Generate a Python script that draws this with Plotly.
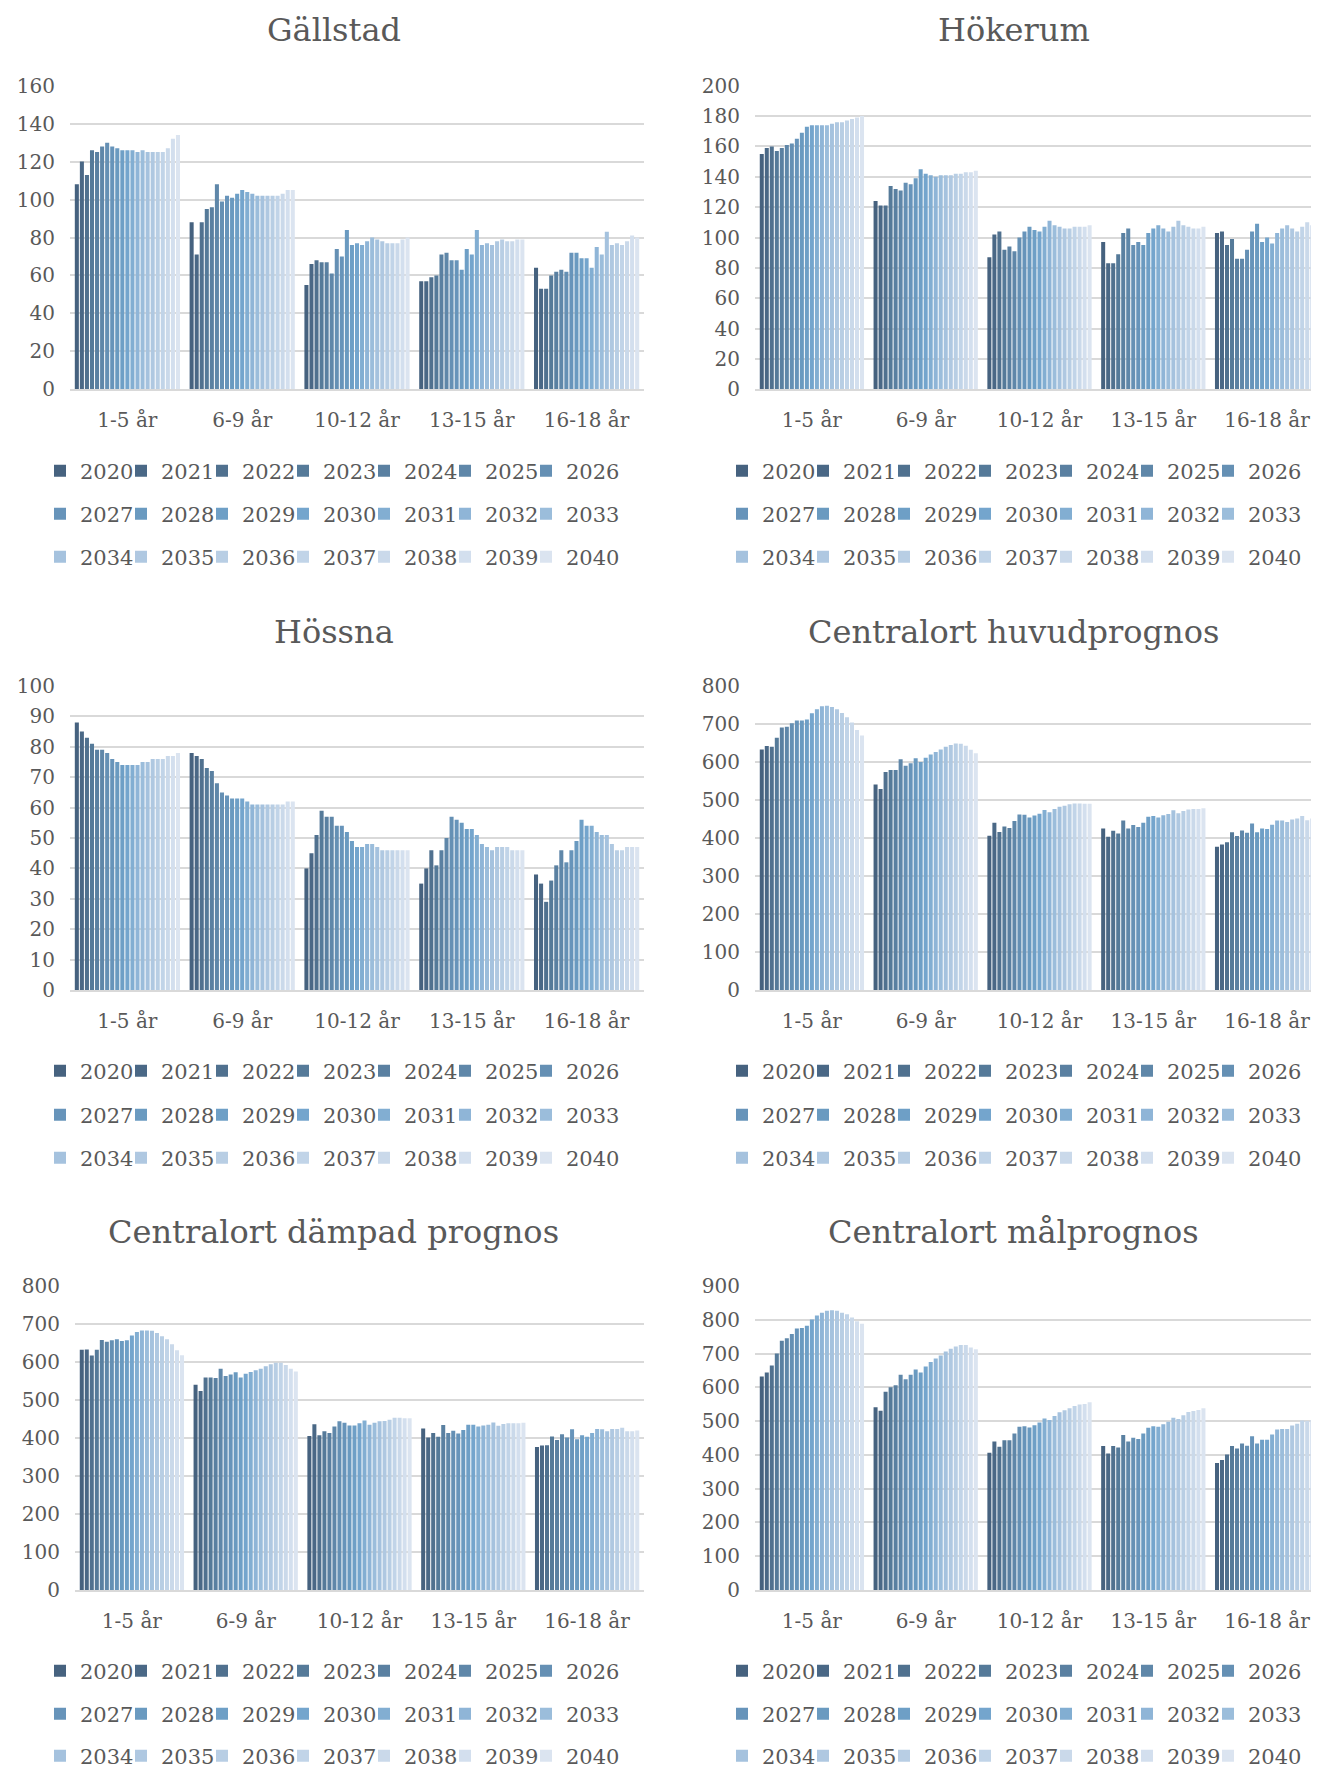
import plotly.graph_objects as go

# ---------------- data ----------------
categories = ["1-5 år", "6-9 år", "10-12 år", "13-15 år", "16-18 år"]
years = [str(y) for y in range(2020, 2041)]

# Gällstad (values per age group, years 2020..2040)
gallstad_1_5   = [108, 120, 113, 126, 125, 128, 130, 128, 127, 126, 126, 126, 125, 126, 125, 125, 125, 125, 127, 132, 134]
gallstad_6_9   = [88, 71, 88, 95, 96, 108, 99, 102, 101, 103, 105, 104, 103, 102, 102, 102, 102, 102, 103, 105, 105]
gallstad_10_12 = [55, 66, 68, 67, 67, 61, 74, 70, 84, 76, 77, 76, 78, 80, 79, 78, 77, 77, 77, 79, 80]
gallstad_13_15 = [57, 57, 59, 60, 71, 72, 68, 68, 63, 74, 71, 84, 76, 77, 76, 78, 79, 78, 78, 79, 79]
gallstad_16_18 = [64, 53, 53, 60, 62, 63, 62, 72, 72, 69, 69, 64, 75, 71, 83, 76, 77, 76, 78, 81, 80]

# Hökerum
hokerum_1_5   = [155, 159, 160, 157, 159, 161, 162, 165, 169, 173, 174, 174, 174, 174, 175, 176, 176, 177, 178, 179, 180]
hokerum_6_9   = [124, 121, 121, 134, 132, 131, 136, 135, 139, 145, 142, 141, 140, 141, 141, 141, 142, 142, 143, 143, 144]
hokerum_10_12 = [87, 102, 104, 92, 94, 91, 100, 104, 107, 105, 104, 107, 111, 108, 107, 106, 106, 107, 107, 107, 108]
hokerum_13_15 = [97, 83, 83, 89, 103, 106, 95, 97, 95, 103, 106, 108, 106, 104, 107, 111, 108, 107, 106, 106, 107]
hokerum_16_18 = [103, 104, 95, 99, 86, 86, 92, 104, 109, 97, 100, 96, 103, 106, 108, 106, 104, 107, 110, 108, 107]

# Hössna
hossna_1_5   = [88, 85, 83, 81, 79, 79, 78, 76, 75, 74, 74, 74, 74, 75, 75, 76, 76, 76, 77, 77, 78]
hossna_6_9   = [78, 77, 76, 73, 72, 68, 65, 64, 63, 63, 63, 62, 61, 61, 61, 61, 61, 61, 61, 62, 62]
hossna_10_12 = [40, 45, 51, 59, 57, 57, 54, 54, 52, 49, 47, 47, 48, 48, 47, 46, 46, 46, 46, 46, 46]
hossna_13_15 = [35, 40, 46, 41, 46, 50, 57, 56, 55, 53, 53, 51, 48, 47, 46, 47, 47, 47, 46, 46, 46]
hossna_16_18 = [38, 35, 29, 36, 41, 46, 42, 46, 49, 56, 54, 54, 52, 51, 51, 48, 46, 46, 47, 47, 47]

# Centralort huvudprognos
huvud_1_5   = [633, 642, 640, 664, 691, 693, 702, 709, 709, 712, 728, 739, 747, 748, 745, 739, 729, 718, 704, 684, 670]
huvud_6_9   = [541, 529, 574, 579, 579, 607, 590, 597, 610, 600, 611, 620, 626, 633, 640, 645, 649, 648, 643, 632, 623]
huvud_10_12 = [406, 440, 416, 430, 426, 445, 462, 461, 454, 459, 464, 474, 468, 476, 482, 485, 489, 491, 491, 490, 490]
huvud_13_15 = [425, 403, 419, 412, 446, 425, 434, 429, 440, 456, 458, 454, 460, 463, 473, 465, 471, 475, 476, 476, 478]
huvud_16_18 = [377, 383, 389, 415, 405, 420, 414, 438, 415, 425, 424, 435, 446, 446, 442, 449, 451, 458, 447, 451, 454]

# Centralort dämpad prognos
dampad_1_5   = [632, 633, 617, 632, 658, 653, 657, 660, 655, 657, 670, 679, 683, 683, 682, 676, 668, 660, 647, 631, 618]
dampad_6_9   = [540, 524, 559, 559, 558, 582, 563, 567, 573, 559, 569, 574, 578, 582, 589, 594, 598, 598, 592, 582, 575]
dampad_10_12 = [405, 436, 407, 418, 413, 430, 444, 440, 433, 433, 439, 446, 435, 440, 444, 445, 448, 453, 453, 452, 452]
dampad_13_15 = [425, 401, 413, 403, 434, 413, 419, 412, 421, 435, 435, 430, 433, 435, 441, 432, 437, 439, 439, 439, 440]
dampad_16_18 = [376, 380, 381, 404, 395, 410, 401, 423, 397, 407, 403, 413, 424, 423, 418, 424, 424, 427, 418, 418, 420]

# Centralort målprognos
mal_1_5   = [632, 644, 665, 700, 738, 745, 758, 774, 776, 782, 801, 813, 821, 827, 828, 827, 821, 816, 807, 796, 788]
mal_6_9   = [541, 531, 587, 600, 606, 637, 624, 637, 653, 644, 662, 675, 685, 694, 706, 714, 721, 725, 725, 718, 713]
mal_10_12 = [406, 440, 424, 443, 443, 463, 483, 485, 481, 488, 496, 508, 503, 515, 526, 532, 538, 545, 549, 551, 556]
mal_13_15 = [426, 404, 426, 422, 459, 440, 451, 447, 463, 480, 485, 483, 491, 498, 510, 506, 517, 527, 530, 533, 538]
mal_16_18 = [376, 385, 401, 426, 419, 434, 427, 455, 434, 445, 445, 460, 475, 477, 477, 487, 492, 502, 500, 503, 506]

titles = ["Gällstad", "Hökerum", "Hössna", "Centralort huvudprognos",
          "Centralort dämpad prognos", "Centralort målprognos"]
charts = [
    [gallstad_1_5, gallstad_6_9, gallstad_10_12, gallstad_13_15, gallstad_16_18],
    [hokerum_1_5, hokerum_6_9, hokerum_10_12, hokerum_13_15, hokerum_16_18],
    [hossna_1_5, hossna_6_9, hossna_10_12, hossna_13_15, hossna_16_18],
    [huvud_1_5, huvud_6_9, huvud_10_12, huvud_13_15, huvud_16_18],
    [dampad_1_5, dampad_6_9, dampad_10_12, dampad_13_15, dampad_16_18],
    [mal_1_5, mal_6_9, mal_10_12, mal_13_15, mal_16_18],
]
y_max = [160, 200, 100, 800, 800, 900]
y_step = [20, 20, 10, 100, 100, 100]

colors = ["#46627f", "#4a6886", "#50718f", "#557a99", "#5a80a1", "#5f87a9", "#6590b4",
          "#6794ba", "#6a9ac0", "#6e9fc6", "#74a5cd", "#82aed2", "#8fb5d7", "#9bbddb",
          "#a5c2de", "#afc8e1", "#b8cee4", "#c1d4e8", "#cad9ea", "#d3dfee", "#dbe4f0"]

# ---------------- layout geometry ----------------
W, H = 1319, 1771
OFF = 8  # page body margin: figure is drawn 8px right / down in the window
FONT = "DejaVu Serif"
TXT = "#595959"
GRID = "#d9d9d9"

def px_x(v):
    return (v - OFF) / W

def px_y(v):
    return 1 - (v - OFF) / H

# window pixel positions
row_y = [(85.7, 389.3), (686, 990), (1286, 1590)]
title_y = [30, 632, 1232]
legend_rows_y = [(471, 514, 557), (1071, 1115, 1158), (1671, 1714, 1756)]
left_x = [(70, 644), (70, 644), (75, 644)]
right_x = (755, 1324)
title_x = [333.5, 1013.5]
legend_x = [40, 722]

fig = go.Figure()
layout = dict(
    template="none",
    width=W, height=H,
    margin=dict(l=0, r=0, t=0, b=0, pad=0, autoexpand=False),
    paper_bgcolor="white", plot_bgcolor="white",
    barmode="group", bargap=0.075, bargroupgap=0.2,
    font=dict(family=FONT, color=TXT, size=20),
    showlegend=True,
    annotations=[],
)

for i, chart in enumerate(charts):
    row, col = divmod(i, 2)
    ax = "" if i == 0 else str(i + 1)
    # series per year, built from the per-category lists
    for j, yr in enumerate(years):
        r = j // 7
        leg_idx = i * 3 + r + 1
        leg_name = "legend" if leg_idx == 1 else f"legend{leg_idx}"
        extra = dict(legendwidth=70) if j % 7 == 6 else {}
        fig.add_trace(go.Bar(
            x=categories,
            y=[chart[c][j] for c in range(len(categories))],
            name=yr,
            marker=dict(color=colors[j], line=dict(width=0)),
            xaxis="x" + ax, yaxis="y" + ax,
            legend=leg_name,
            **extra,
        ))
    y0, y1 = row_y[row]
    xl, xr = left_x[row] if col == 0 else right_x
    layout["xaxis" + ax] = dict(
        domain=[px_x(xl), px_x(xr)], range=[-0.5, 4.5], type="category",
        anchor="y" + ax, showgrid=False, zeroline=False,
        showline=True, linecolor=GRID, linewidth=2,
        ticks="", ticklabelstandoff=12, automargin=False,
        tickfont=dict(family=FONT, size=20, color=TXT),
        fixedrange=True,
    )
    layout["yaxis" + ax] = dict(
        domain=[px_y(y1), px_y(y0)], range=[0, y_max[i]], dtick=y_step[i],
        anchor="x" + ax, showgrid=True, gridcolor=GRID, gridwidth=1.6,
        zeroline=False, showline=False, ticks="", ticklabelstandoff=14,
        automargin=False,
        tickfont=dict(family=FONT, size=20, color=TXT),
        fixedrange=True,
    )
    layout["annotations"].append(dict(
        text=titles[i], xref="paper", yref="paper",
        x=px_x(title_x[col]), y=px_y(title_y[row]),
        xanchor="center", yanchor="middle", showarrow=False,
        font=dict(family=FONT, size=32, color=TXT),
    ))
    for r in range(3):
        leg_idx = i * 3 + r + 1
        leg_name = "legend" if leg_idx == 1 else f"legend{leg_idx}"
        layout[leg_name] = dict(
            orientation="h", x=px_x(legend_x[col]), xanchor="left",
            y=px_y(legend_rows_y[row][r]), yanchor="middle",
            entrywidth=36, entrywidthmode="pixels",
            bgcolor="rgba(0,0,0,0)", borderwidth=0,
            font=dict(family=FONT, size=21, color=TXT),
            traceorder="normal",
        )

fig.update_layout(**layout)
fig.write_html("out.html")
